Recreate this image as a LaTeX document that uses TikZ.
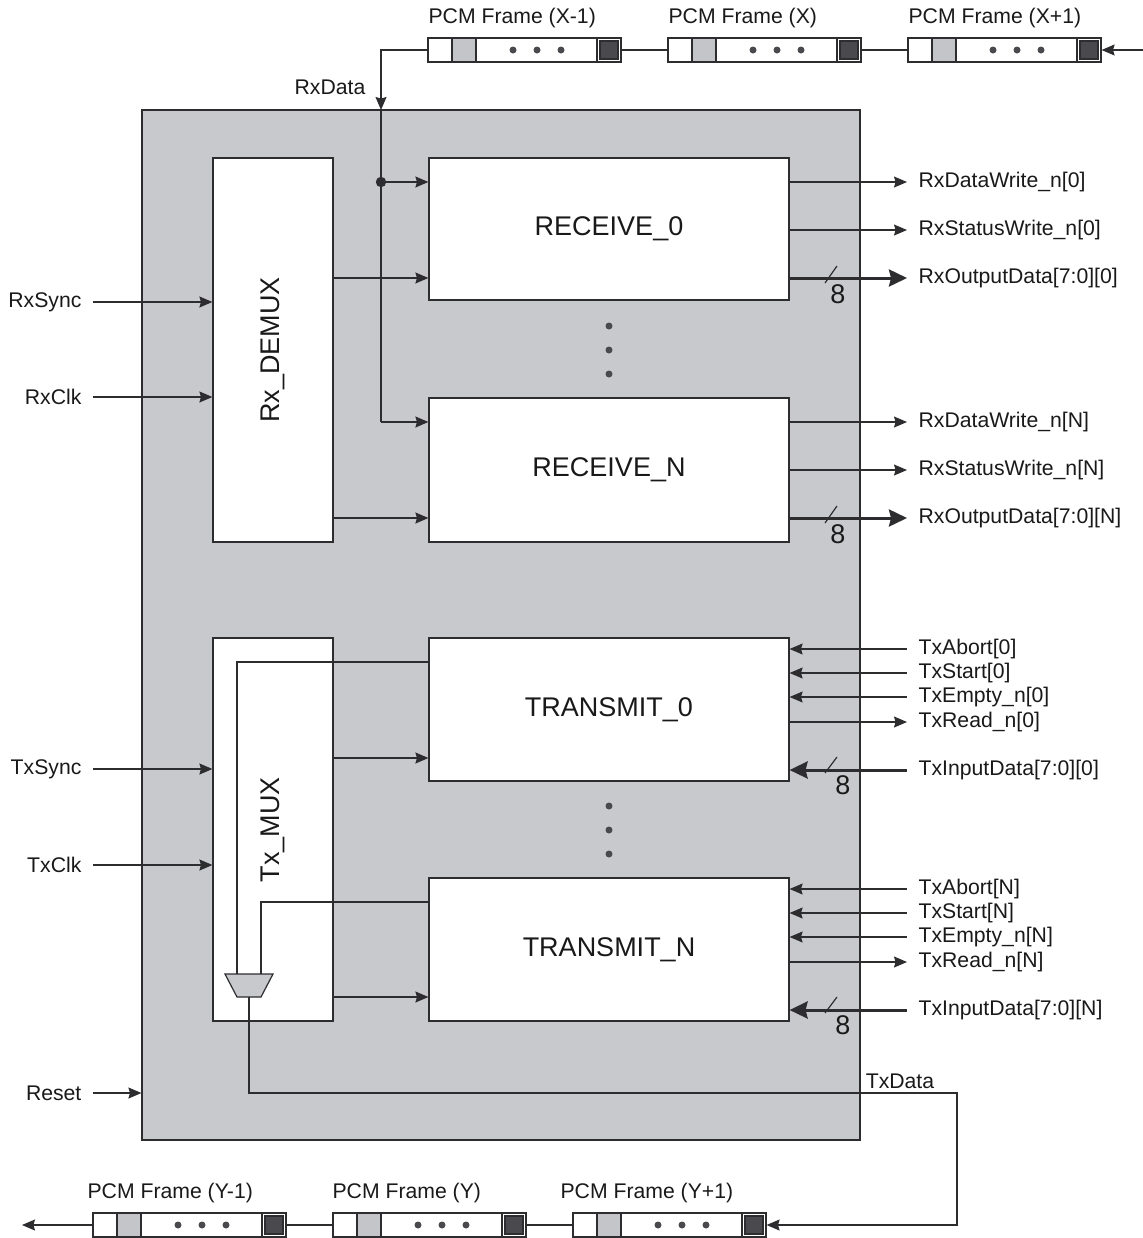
\documentclass[tikz,border=0pt]{standalone}
\usepackage{fontspec}
\setmainfont{Liberation Sans}
\usetikzlibrary{arrows.meta, positioning, fit}

\definecolor{chipgrey}{RGB}{200,201,205}
\definecolor{slotgrey}{RGB}{196,197,200}
\definecolor{darkslot}{RGB}{74,74,78}
\definecolor{wire}{RGB}{45,45,48}

\begin{document}
\begin{tikzpicture}[
        x=0.5pt, y=-0.5pt,
        line width=0.6pt, draw=wire,
        >={Stealth[length=6.5pt, width=5.5pt, inset=0.8pt]},
        every node/.style={font=\fontsize{10.6}{12}\selectfont, text=black!90},
        blk/.style={draw=wire, fill=white, inner sep=0pt},
        boxtxt/.style={font=\fontsize{13.5}{16}\selectfont},
        bus/.style={line width=1.5pt, >={Stealth[length=9pt, width=8.5pt, inset=1pt]}},
        siglbl/.style={anchor=west, inner xsep=5.5pt, inner ysep=0pt},
        leftlbl/.style={anchor=east, inner xsep=5.5pt, inner ysep=0pt},
        pcm/.style={draw=wire, fill=white, inner sep=0pt},
        wdt/.style={font=\fontsize{13.5}{15}\selectfont, inner sep=0pt},
      ]
      \useasboundingbox (0,0) rectangle (1143,1238);

      % chip and blocks
      \node[draw=wire, fill=chipgrey, inner sep=0pt, fit={(142,110) (860,1140)}] (chip) {};

      \node[blk, fit={(213,158) (333,542)}] (demux) {};
      \node[boxtxt, rotate=90] (demuxlbl) at (demux.center) {Rx\_DEMUX};
      \node[blk, fit={(213,638) (333,1021)}] (muxbox) {};
      \node[boxtxt, rotate=90] (muxlbl) at (muxbox.center) {Tx\_MUX};

      \node[blk, fit={(429,158) (789,300)}] (rx0) {};
      \node[blk, fit={(429,398) (789,542)}] (rxn) {};
      \node[blk, fit={(429,638) (789,781)}] (tx0) {};
      \node[blk, fit={(429,878) (789,1021)}] (txn) {};
      \node[boxtxt] (rx0lbl) at (rx0.center) {RECEIVE\_0};
      \node[boxtxt] (rxnlbl) at (rxn.center) {RECEIVE\_N};
      \node[boxtxt] (tx0lbl) at (tx0.center) {TRANSMIT\_0};
      \node[boxtxt] (txnlbl) at (txn.center) {TRANSMIT\_N};

      \foreach \y in {326,350,374,806,830,854}
        \fill[darkslot] (609,\y) circle (1.75pt);

      % PCM frames
      \foreach \n/\x/\y/\t/\lx in {fx1/428/50/X-1/428, fx2/668/50/X/668, fx3/908/50/X+1/908,
                                   fy1/93/1225/Y-1/87, fy2/333/1225/Y/332, fy3/573/1225/Y+1/560} {
        \node[pcm, fit={(\x,\y-12) (\x+193,\y+12)}] (\n) {};
        \draw[fill=slotgrey] (\x+24,\y-12) rectangle (\x+48,\y+12);
        \draw (\x+169,\y-12) -- (\x+169,\y+12);
        \draw[fill=darkslot] (\x+172,\y-9) rectangle (\x+190,\y+9);
        \foreach \d in {85,109,133}
          \fill[darkslot] (\x+\d,\y) circle (1.75pt);
        \node[anchor=west, inner xsep=0pt] (\n lbl) at (\lx,\y-32) {PCM Frame (\t)};
      }
      \coordinate (rxsrc) at (1143,50);
      \coordinate (txsink) at (22,1225);
      \draw[<-] (fx3.east) -- (rxsrc);
      \draw (fx3.west) -- (fx2.east);
      \draw (fx2.west) -- (fx1.east);
      \draw (fy3.west) -- (fy2.east);
      \draw (fy2.west) -- (fy1.east);
      \draw[->] (fy1.west) -- (txsink);

      % RxData
      \node (rxdlbl) at (330,87) {RxData};
      \coordinate (rxin) at (381,110);
      \coordinate (rxdot) at (381,182);
      \coordinate (rxturn) at (381,422);
      \draw[->] (fx1.west) -| (rxin);
      \draw (rxin) -- (rxturn);
      \draw[->] (rxturn) -- (rxturn -| rxn.west);
      \draw[->] (rxdot) -- (rxdot -| rx0.west);
      \fill[wire] (rxdot) circle (2.6pt);

      \draw[->] (demux.east |- 0,278) -- (rx0.west |- 0,278);
      \draw[->] (demux.east |- 0,518) -- (rxn.west |- 0,518);
      \draw[->] (muxbox.east |- 0,758) -- (tx0.west |- 0,758);
      \draw[->] (muxbox.east |- 0,997) -- (txn.west |- 0,997);

      % left inputs
      \foreach \n/\t/\y/\b in {rxs/RxSync/302/demux, rxc/RxClk/397/demux,
                               txs/TxSync/769/muxbox, txc/TxClk/865/muxbox,
                               rst/Reset/1093/chip} {
        \node[leftlbl] (\n) at (93,\y) {\t};
        \draw[->] (\n.east) -- (\n.east -| \b.west);
      }

      % receive outputs
      \foreach \b/\s/\y in {rx0/0/182, rxn/N/422} {
        \node[siglbl] (dw\s) at (907,\y) {RxDataWrite\_n[\s]};
        \draw[->] (\b.east |- dw\s) -- (dw\s.west);
        \node[siglbl] (sw\s) at (907,\y+48) {RxStatusWrite\_n[\s]};
        \draw[->] (\b.east |- sw\s) -- (sw\s.west);
        \node[siglbl] (od\s) at (907,\y+96) {RxOutputData[7:0][\s]};
        \draw[bus, ->] (\b.east |- od\s) -- (od\s.west);
        \draw (825,\y+101) -- (837,\y+84);
        \node[wdt] (odw\s) at (838,\y+112) {8};
      }

      % transmit inputs
      \foreach \b/\s/\y in {tx0/0/649, txn/N/889} {
        \node[siglbl] (ab\s) at (907,\y) {TxAbort[\s]};
        \draw[<-] (\b.east |- ab\s) -- (ab\s.west);
        \node[siglbl] (st\s) at (907,\y+24) {TxStart[\s]};
        \draw[<-] (\b.east |- st\s) -- (st\s.west);
        \node[siglbl] (em\s) at (907,\y+48) {TxEmpty\_n[\s]};
        \draw[<-] (\b.east |- em\s) -- (em\s.west);
        \node[siglbl] (rd\s) at (907,\y+73) {TxRead\_n[\s]};
        \draw[->] (\b.east |- rd\s) -- (rd\s.west);
        \node[siglbl] (id\s) at (907,\y+121) {TxInputData[7:0][\s]};
        \draw[bus, <-] (\b.east |- id\s) -- (id\s.west);
        \draw (825,\y+124) -- (837,\y+108);
        \node[wdt] (idw\s) at (843,\y+136) {8};
      }

      % Tx mux and TxData
      \coordinate (muxa) at (237,974);
      \coordinate (muxb) at (261,974);
      \coordinate (muxo) at (249,997);
      \draw[fill=chipgrey] (225,974) -- (273,974) -- (261,997) -- (237,997) -- cycle;
      \draw (tx0.west |- 0,662) -| (muxa);
      \draw (txn.west |- 0,902) -| (muxb);
      \coordinate (txturn) at (957,1093);
      \draw[->] (muxo) |- (txturn) |- (fy3.east);
      \node (txdlbl) at (900,1081) {TxData};

    \end{tikzpicture}
\end{document}
